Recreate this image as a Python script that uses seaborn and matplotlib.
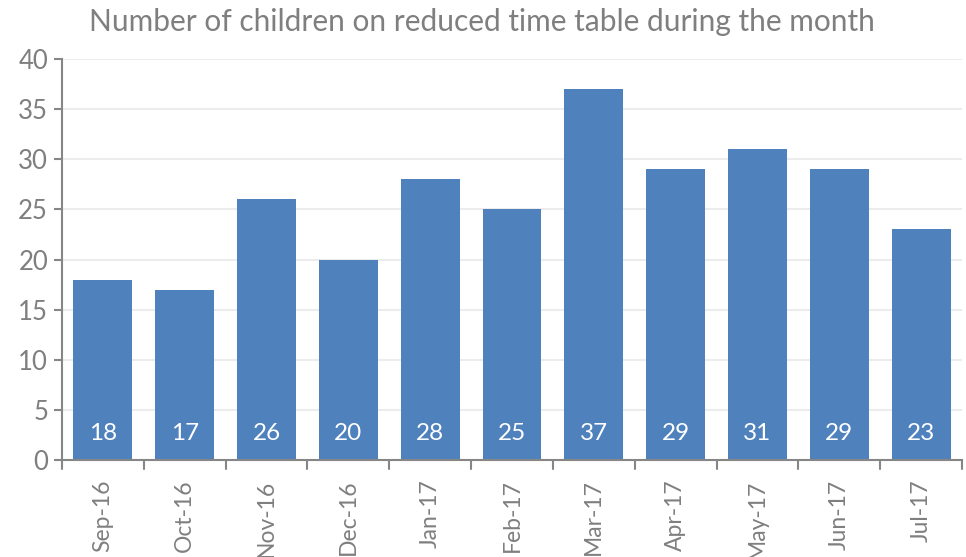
import matplotlib
matplotlib.use("Agg")
import matplotlib.pyplot as plt
import seaborn as sns
import pandas as pd

months = ["Sep-16", "Oct-16", "Nov-16", "Dec-16", "Jan-17", "Feb-17",
          "Mar-17", "Apr-17", "May-17", "Jun-17", "Jul-17"]
children = [18, 17, 26, 20, 28, 25, 37, 29, 31, 29, 23]
yticks = [0, 5, 10, 15, 20, 25, 30, 35, 40]

df = pd.DataFrame({"month": months, "children": children})

sns.set_theme(style="white")
plt.rcParams["font.family"] = ["Lato", "DejaVu Sans"]

gray_text = "#7f7f7f"
axis_gray = "#868686"
bar_blue = "#4f81bd"

fig = plt.figure(figsize=(9.66, 5.57), dpi=100)
ax = fig.add_axes([62 / 966, 1 - 460 / 557, 900 / 966, 401 / 557])

sns.barplot(data=df, x="month", y="children", color=bar_blue, saturation=1,
            width=0.72, linewidth=0, ax=ax, zorder=3)

ax.set_ylim(0, 40)
ax.set_xlim(-0.5, len(months) - 0.5)
ax.set_yticks(yticks)
ax.set_yticklabels([str(v) for v in yticks], fontsize=18.5, color=gray_text)
ax.set_xticks(range(len(months)))
ax.set_xticklabels(months, rotation=90, fontsize=16.5, color=gray_text)
ax.tick_params(axis="x", length=0, pad=14)
ax.tick_params(axis="y", length=6, width=1.5, color=axis_gray, pad=4, direction="out", left=True)
ax.set_xlabel("")
ax.set_ylabel("")

# horizontal gridlines
for v in yticks[1:]:
    ax.axhline(v, color="#ececec", lw=1.5, zorder=1)

# category separator ticks below the baseline
for i in range(len(months) + 1):
    ax.plot([i - 0.5, i - 0.5], [0, -0.9], color=axis_gray, lw=1.5,
            clip_on=False, zorder=4)

for s in ["top", "right"]:
    ax.spines[s].set_visible(False)
for s in ["left", "bottom"]:
    ax.spines[s].set_color(axis_gray)
    ax.spines[s].set_linewidth(1.5)
    ax.spines[s].set_zorder(5)

# value labels inside the bars
for i, v in enumerate(children):
    ax.text(i, 2.6, str(v), ha="center", va="center", color="white",
            fontsize=17.5, zorder=6)

fig.text(482 / 966, 1 - 22 / 557,
         "Number of children on reduced time table during the month",
         ha="center", va="center", fontsize=21.5, color=gray_text)

fig.savefig("out.png", dpi=100)
